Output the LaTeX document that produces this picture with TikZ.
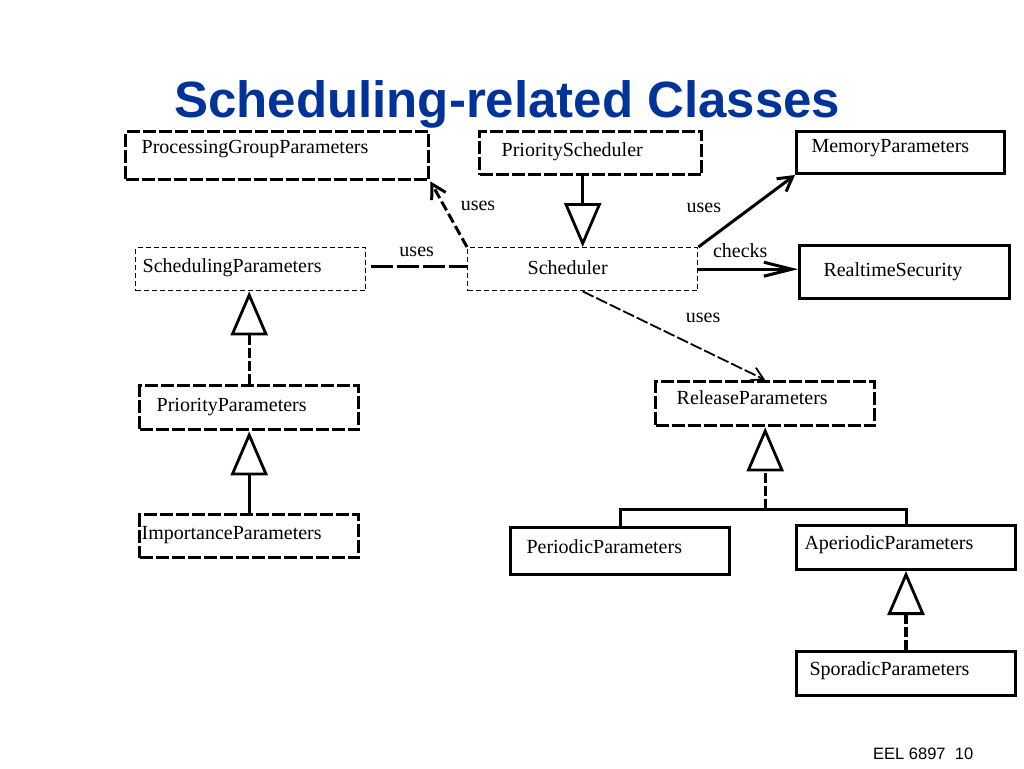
\documentclass[tikz,border=0pt]{standalone}
\usepackage{fontspec}
\setmainfont{Liberation Serif}
\newfontfamily\headfont{Liberation Sans}
\usepackage{xcolor}
\usepackage{tikz}
\usetikzlibrary{arrows.meta}
\definecolor{titleblue}{RGB}{0,51,153}

\begin{document}
\begin{tikzpicture}[x=1pt,y=-1pt,
  cls/.style={draw,anchor=north west,align=left,inner ysep=0pt,font=\fontsize{20}{22}\selectfont},
  dashbox/.style={cls,line width=3.4pt,dash pattern=on 13pt off 3pt},
  thinbox/.style={cls,line width=1.4pt,dash pattern=on 5pt off 3pt},
  solidbox/.style={cls,line width=3pt},
  lbl/.style={font=\fontsize{20}{22}\selectfont,inner sep=1pt},
  inherit/.style={line width=3.4pt,-{Triangle[open,length=44pt,width=37pt,line width=2.8pt]}},
  uses/.style={line width=3pt,-{Straight Barb[length=14pt,width=16pt]}}]

  \useasboundingbox (0,0) rectangle (1024,768);

  \node[anchor=base west,inner sep=0pt,text=titleblue,
  font=\headfont\bfseries\fontsize{51}{60}\selectfont] (title) at (174,117) {Scheduling-related Classes};

  % top row
  \node[dashbox,text width=271pt,inner xsep=16pt,text height=22pt,text depth=26pt] (pgp) at (124,130) {ProcessingGroupParameters};
  \node[dashbox,text width=178pt,inner xsep=22pt,text height=25pt,text depth=18pt] (ps) at (478,130) {PriorityScheduler};
  \node[solidbox,text width=178pt,inner xsep=15pt,text height=21pt,text depth=21pt] (mp) at (795,130) {MemoryParameters};

  % middle row
  \node[thinbox,text width=216pt,inner xsep=7pt,text height=25pt,text depth=18pt] (sp) at (135,247) {SchedulingParameters};
  \node[thinbox,text width=110pt,inner xsep=60pt,text height=27pt,text depth=16pt] (sch) at (467,247) {Scheduler};
  \node[solidbox,text width=162pt,inner xsep=24pt,text height=31pt,text depth=22pt] (rs) at (798,244) {RealtimeSecurity};

  % parameter classes
  \node[dashbox,text width=185pt,inner xsep=17pt,text height=26pt,text depth=18pt] (pp) at (138,384) {PriorityParameters};
  \node[dashbox,text width=215pt,inner xsep=2pt,text height=25pt,text depth=18pt] (ip) at (138,513) {ImportanceParameters};
  \node[dashbox,text width=177pt,inner xsep=21pt,text height=23pt,text depth=21pt] (rp) at (654,380) {ReleaseParameters};
  \node[solidbox,text width=187pt,inner xsep=16pt,text height=26pt,text depth=21pt] (perp) at (509,526) {PeriodicParameters};
  \node[solidbox,text width=203pt,inner xsep=8pt,text height=24pt,text depth=20pt] (ap) at (795,524) {AperiodicParameters};
  \node[solidbox,text width=193pt,inner xsep=13pt,text height=24pt,text depth=20pt] (spp) at (795,650) {SporadicParameters};

  % inheritance
  \draw[inherit] (sch.north |- ps.south) -- (sch.north);
  \draw[inherit,dash pattern=on 10pt off 3pt] (pp.north) -- (pp.north |- sp.south);
  \draw[inherit] (ip.north) -- (pp.south);
  \coordinate (fork) at ([yshift=-82pt]rp.south);
  \draw[inherit,dash pattern=on 10pt off 3pt] (fork) -- (rp.south);
  \draw[line width=3pt] (perp.north) |- (fork) -| (ap.north);
  \draw[inherit,dash pattern=on 10pt off 3pt] (spp.north) -- (ap.south);

  % associations
  \draw[uses,dash pattern=on 10pt off 4pt] (sch.north west) -- (pgp.south east)
  node[lbl,pos=0.62,anchor=west,xshift=14pt] (u1) {uses};
  \draw[line width=3pt,dash pattern=on 22pt off 4pt,shorten <=5pt] ([yshift=3pt]sp.east) -- ([yshift=3pt]sch.west)
  node[lbl,midway,above=7pt] (u2) {uses};
  \draw[uses] (sch.north east) -- (mp.south west)
  node[lbl,pos=0.55,anchor=east,xshift=-28pt] (u3) {uses};
  \draw[uses,-{Straight Barb[length=28pt,width=14pt]}] (sch.east) -- (sch.east -| rs.west)
  node[lbl,midway,above=9.5pt,xshift=-8pt] (c1) {checks};
  \draw[line width=1.8pt,dash pattern=on 12pt off 3pt,-{Straight Barb[length=12pt,width=14pt]}] (sch.south) -- (rp.north)
  node[lbl,pos=0.66,anchor=south,yshift=25pt] (u4) {uses};

  \node[anchor=base west,inner sep=0pt,font=\headfont\fontsize{16.5}{18}\selectfont] (foot) at (873,759) {EEL 6897~~10};
\end{tikzpicture}
\end{document}
